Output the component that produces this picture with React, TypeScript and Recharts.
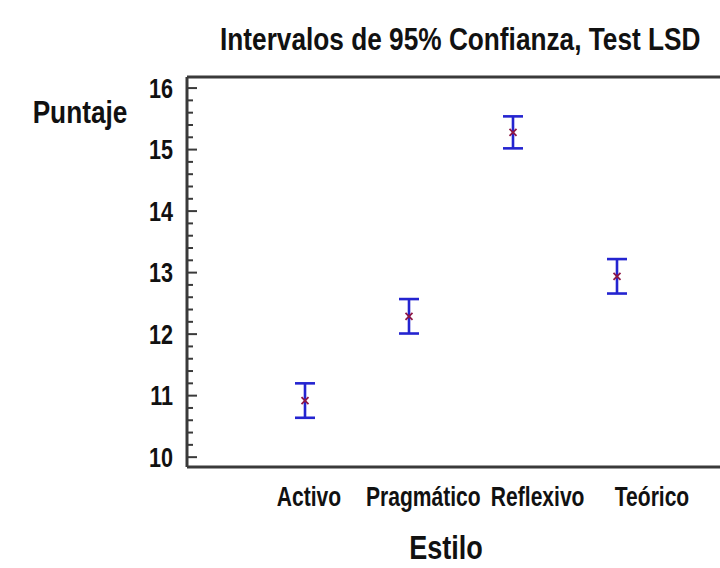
import {
  ComposedChart,
  Line,
  ErrorBar,
  XAxis,
  YAxis,
  ReferenceLine,
} from "recharts";

// Estilo de aprendizaje vs puntaje medio (intervalos LSD 95%)
const estilos = ["Activo", "Pragmático", "Reflexivo", "Teórico"];
const medias = [10.92, 12.29, 15.28, 12.94];
const errores = [0.28, 0.28, 0.26, 0.28];
const yTicks = Array.from({ length: 31 }, (_, i) => Math.round((10 + i * 0.2) * 10) / 10);
const yDomain = [9.84, 16.18];

const data = estilos.map((e, i) => ({ estilo: e, media: medias[i], err: errores[i] }));

const FONT = "'Liberation Sans', Arial, sans-serif";
const NARROW = 0.82; // imita Arial Narrow
const FRAME = "#3a3a3a";
const INK = "#111";

// texto en negrita estrecho (Arial Narrow no está instalada)
function NText({ x, y, size, anchor = "middle", dy, sx = NARROW, children }: any) {
  return (
    <text
      transform={`translate(${x},${y}) scale(${sx},1)`}
      x={0}
      y={0}
      dy={dy}
      textAnchor={anchor}
      fontFamily={FONT}
      fontWeight="bold"
      fontSize={size}
      fill={INK}
    >
      {children}
    </text>
  );
}

function YTick(props: any) {
  const { x, y, payload } = props;
  const major = Number.isInteger(payload.value);
  return (
    <g>
      <line x1={x} y1={y} x2={x + (major ? 10 : 6)} y2={y} stroke={FRAME} strokeWidth={2} />
      {major && (
        <NText x={x - 14} y={y} dy="0.36em" size={27} sx={0.8} anchor="end">
          {payload.value}
        </NText>
      )}
    </g>
  );
}

function XTick(props: any) {
  const { x, y, payload } = props;
  return (
    <NText x={x} y={y} dy="0.71em" size={27} sx={0.78}>
      {payload.value}
    </NText>
  );
}

function Cross(props: any) {
  const { cx, cy } = props;
  if (cx == null || cy == null) return <g />;
  const s = 3.5;
  return (
    <g stroke="#8e1846" strokeWidth={1.8}>
      <line x1={cx - s} y1={cy - s} x2={cx + s} y2={cy + s} />
      <line x1={cx - s} y1={cy + s} x2={cx + s} y2={cy - s} />
    </g>
  );
}

export default function App() {
  return (
    <div
      style={{
        position: "absolute",
        left: 0,
        top: 0,
        width: 720,
        height: 568,
        overflow: "hidden",
        background: "#fff",
      }}
    >
      <svg width={720} height={60} style={{ position: "absolute", left: 0, top: 0 }}>
        <NText x={220} y={50} size={32} anchor="start">
          Intervalos de 95% Confianza, Test LSD
        </NText>
      </svg>
      <ComposedChart
        width={780}
        height={568}
        data={data}
        margin={{ top: 77, right: 40, bottom: 0, left: 0 }}
      >
        <XAxis
          xAxisId="pts"
          dataKey="estilo"
          scale="point"
          padding={{ left: 118, right: 123 }}
          height={1}
          tick={false}
          tickLine={false}
          axisLine={false}
        />
        <XAxis
          xAxisId="lbl"
          dataKey="estilo"
          scale="point"
          padding={{ left: 122, right: 88 }}
          height={100}
          axisLine={false}
          tickLine={false}
          tickSize={0}
          tickMargin={20}
          interval={0}
          tick={<XTick />}
          label={{
            content: () => (
              <NText x={446} y={559} size={33}>
                Estilo
              </NText>
            ),
          }}
        />
        <YAxis
          width={187}
          domain={yDomain}
          ticks={yTicks}
          interval={0}
          tickLine={false}
          tickSize={0}
          tickMargin={0}
          axisLine={{ stroke: FRAME, strokeWidth: 3 }}
          tick={<YTick />}
          label={{
            content: () => (
              <NText x={80} y={123} size={32}>
                Puntaje
              </NText>
            ),
          }}
        />
        {/* marco superior e inferior */}
        <ReferenceLine xAxisId="pts" y={yDomain[1]} stroke={FRAME} strokeWidth={3} />
        <ReferenceLine xAxisId="pts" y={yDomain[0]} stroke={FRAME} strokeWidth={3} />
        <Line
          xAxisId="pts"
          dataKey="media"
          stroke="none"
          isAnimationActive={false}
          dot={<Cross />}
          activeDot={false}
        >
          <ErrorBar dataKey="err" direction="y" width={10} stroke="#2424d0" strokeWidth={2.6} />
        </Line>
      </ComposedChart>
    </div>
  );
}
